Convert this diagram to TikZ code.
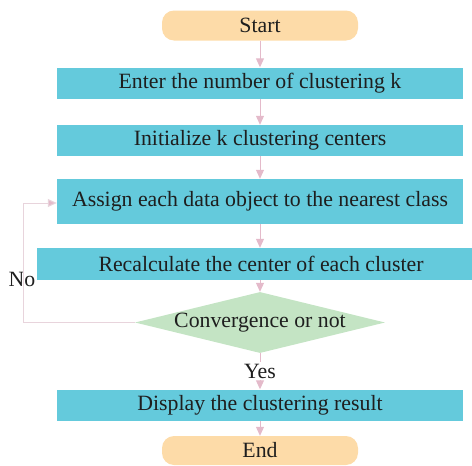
\documentclass[tikz,border=0pt]{standalone}
\usepackage{fontspec}
\setmainfont{Liberation Serif}
\usetikzlibrary{shapes.geometric,arrows.meta}
\definecolor{boxc}{RGB}{100,202,220}
\definecolor{termc}{RGB}{253,219,168}
\definecolor{decc}{RGB}{196,228,196}
\definecolor{arrc}{RGB}{228,186,202}
\definecolor{linec}{RGB}{232,212,220}
\definecolor{txtc}{RGB}{30,30,30}
\begin{document}
\begin{tikzpicture}[x=1pt,y=-1pt,
  every node/.style={font=\fontsize{21.8}{24}\selectfont, text=txtc, inner sep=0pt},
  procbox/.style={rectangle, fill=boxc, minimum width=406pt, minimum height=31pt},
  termbox/.style={rectangle, rounded corners=12pt, fill=termc, minimum width=196pt, minimum height=30pt},
  decbox/.style={diamond, fill=decc, minimum width=244pt, minimum height=59pt, aspect=4.1},
  flow/.style={draw=arrc, line width=1pt, -{Triangle[width=8pt,length=9pt]}},
  back/.style={draw=linec, line width=1pt, -{Triangle[width=8pt,length=9pt,fill=arrc]}}
]
\useasboundingbox (0,0) rectangle (472,466);
\node[termbox] (start) at (260,25.5) {Start};
\node[procbox] (enter) at (260,83) {Enter the number of clustering k};
\node[procbox] (init) at (260,140.5) {Initialize k clustering centers};
\node[procbox, minimum height=45pt] (assign) at (260,201.5) {Assign each data object to the nearest class};
\node[procbox, minimum width=435pt, minimum height=32pt] (recalc) at (254.5,264) {\hspace*{13pt}Recalculate the center of each cluster};
\node[decbox] (dec) at (260,322.5) {Convergence or not};
\node[procbox] (disp) at (260,405) {Display the clustering result};
\node[termbox, minimum height=29pt] (end) at (260,450.5) {End};
\node (no) at (22,279) {No};
\coordinate (c1) at (23,322.5);
\coordinate (c2) at (23,203);
\draw[flow] (start) -- (enter);
\draw[flow] (enter) -- (init);
\draw[flow] (init) -- (assign);
\draw[flow] ([xshift=5.5pt]recalc.north |- assign.south) -- ([xshift=5.5pt]recalc.north);
\draw[flow] (recalc.south -| dec.north) -- (dec.north);
\draw[flow] (dec.south) -- node[fill=white, inner sep=2pt] (yes) {Yes} (disp.north);
\draw[flow] (disp) -- (end);
\draw[back] (dec.west) -- (c1) -- (c2) -- (c2 -| assign.west);
\end{tikzpicture}
\end{document}
